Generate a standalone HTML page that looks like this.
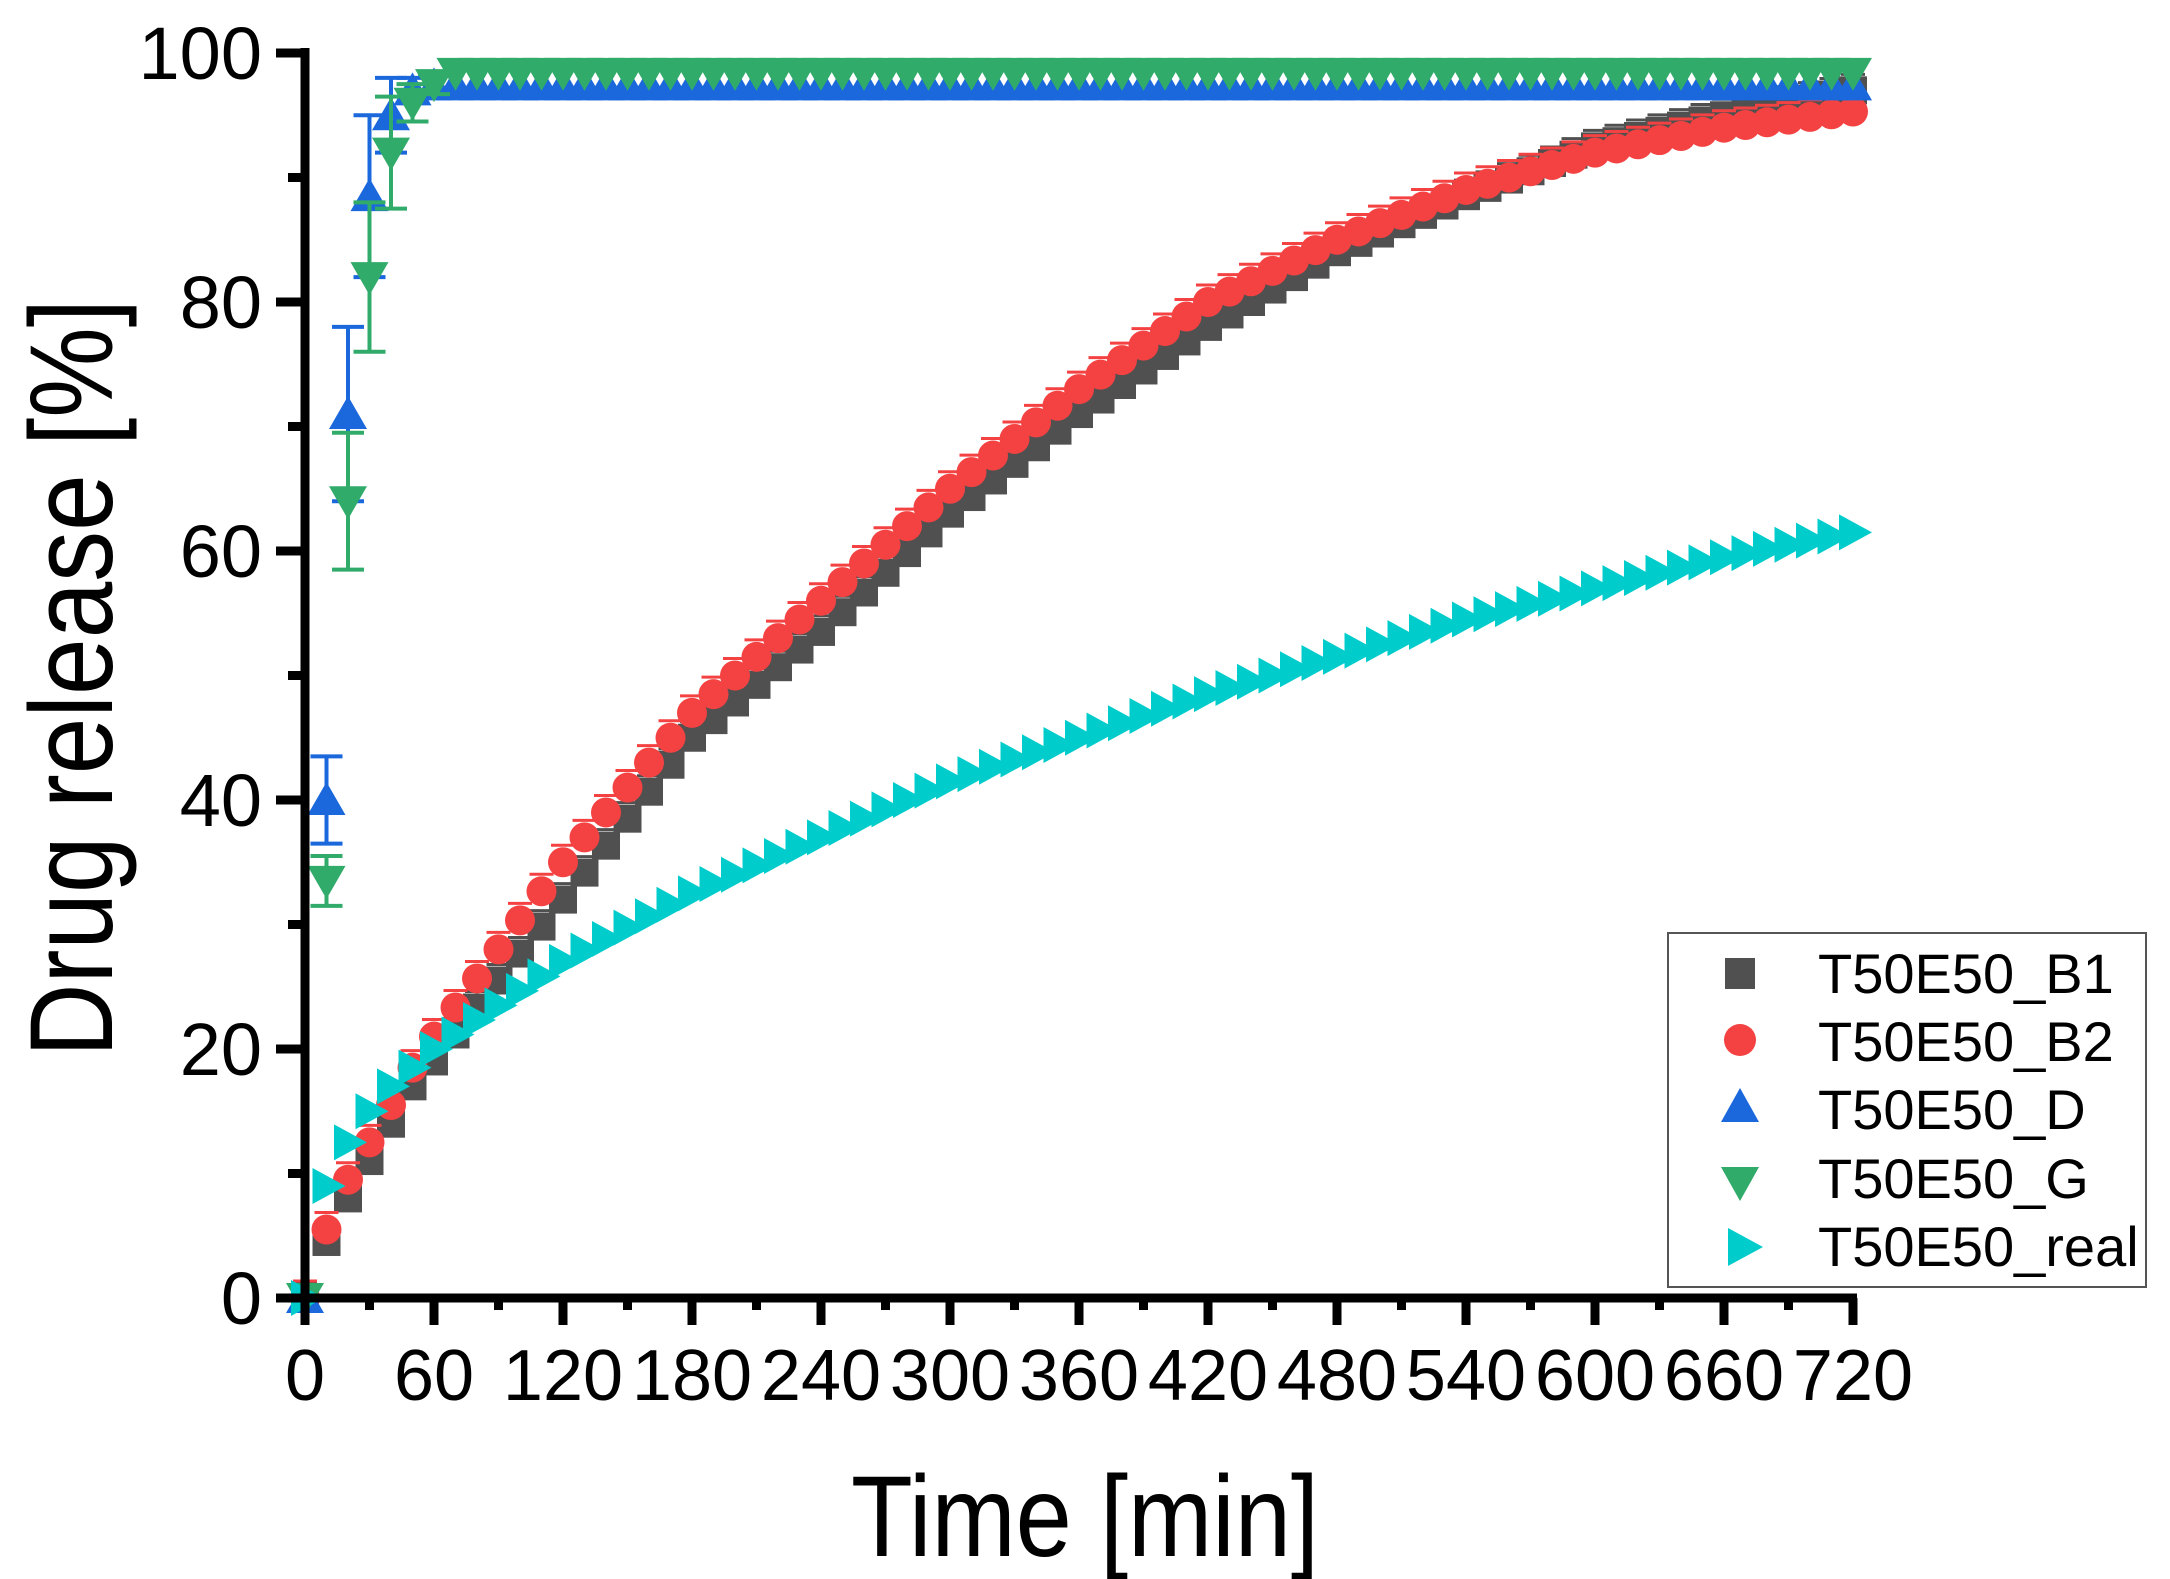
<!DOCTYPE html>
<html><head><meta charset="utf-8"><style>
html,body{margin:0;padding:0;background:#fff}
svg{display:block}
text{font-family:"Liberation Sans",Arial,sans-serif;fill:#000}
</style></head><body>
<svg id="s" width="2170" height="1579" viewBox="0 0 2170 1579" xmlns="http://www.w3.org/2000/svg">
<g id="data"></g>
<g id="axes"></g>
<text x="1085" y="1556" font-size="115" text-anchor="middle" textLength="468" lengthAdjust="spacingAndGlyphs">Time [min]</text>
<text transform="translate(112,678) rotate(-90)" font-size="118" text-anchor="middle" textLength="758" lengthAdjust="spacingAndGlyphs">Drug release [%]</text>
<rect x="1668" y="933" width="478" height="354" fill="#fff" stroke="#555" stroke-width="2"/>
<rect x="1725" y="958" width="30" height="31" fill="#505050"/>
<circle cx="1740" cy="1040" r="16" fill="#f44242"/>
<polygon points="1740,1088 1759,1122 1721,1122" fill="#1a68dc"/>
<polygon points="1721,1167 1759,1167 1740,1201" fill="#30ab6a"/>
<polygon points="1728,1228 1763,1247 1728,1266" fill="#00cccc"/>
<g font-size="56">
<text x="1818" y="993">T50E50_B1</text>
<text x="1818" y="1061">T50E50_B2</text>
<text x="1818" y="1129">T50E50_D</text>
<text x="1818" y="1198">T50E50_G</text>
<text x="1818" y="1266">T50E50_real</text>
</g>
</svg>
<script>
var X=function(t){return 305+t*(1853-305)/720},Y=function(v){return 1298-v*(1298-53)/100};
function interp(a,t){for(var i=0;i<a.length-1;i++){if(t<=a[i+1][0]){var f=(t-a[i][0])/(a[i+1][0]-a[i][0]);return a[i][1]+f*(a[i+1][1]-a[i][1]);}}return a[a.length-1][1];}
var B1=[[0,0],[10,4.5],[20,8],[30,11],[40,14],[50,17],[60,19],[120,32],[180,45],[240,53.5],[300,63],[360,71],[420,78],[480,84],[540,88.5],[600,92.5],[660,95],[720,97]];
var B2=[[0,0],[10,5.5],[20,9.5],[30,12.5],[40,15.5],[50,18.5],[60,21],[120,35],[180,47],[240,56],[300,65],[360,73],[420,80],[480,85],[540,89],[600,92],[660,94],[720,95.3]];
var R=[[0,0],[10,9],[20,12.5],[30,15],[40,17],[50,18.5],[60,20],[120,27],[180,32.5],[240,37],[300,41.5],[360,45],[420,48.5],[480,51.5],[540,54.5],[600,57],[660,59.5],[720,61.5]];
var D=[[0,0],[10,40],[20,71],[30,88.5],[40,95],[50,97],[60,97.4],[720,97.4]];
var De=[0,3.5,7,6.5,3,1,0.3];
var G=[[0,0],[10,33.5],[20,64],[30,82],[40,92],[50,96],[60,97.5],[70,98.4],[720,98.4]];
var Ge=[0,2,5.5,6,4.5,1.5,0.8];
var h='';
function eb(t,v,e,c){if(e<=0.4)return;var x=X(t);h+='<line x1="'+x+'" y1="'+Y(v-e)+'" x2="'+x+'" y2="'+Y(v+e)+'" stroke="'+c+'" stroke-width="4"/>';h+='<line x1="'+(x-16)+'" y1="'+Y(v-e)+'" x2="'+(x+16)+'" y2="'+Y(v-e)+'" stroke="'+c+'" stroke-width="4"/>';h+='<line x1="'+(x-16)+'" y1="'+Y(v+e)+'" x2="'+(x+16)+'" y2="'+Y(v+e)+'" stroke="'+c+'" stroke-width="4"/>';}
var t,x,y;
for(t=0;t<=720;t+=10){x=X(t);y=Y(interp(B1,t));h+='<rect x="'+(x-14)+'" y="'+(y-14)+'" width="28" height="28" fill="#505050"/><line x1="'+(x-12)+'" y1="'+(y-16)+'" x2="'+(x+12)+'" y2="'+(y-16)+'" stroke="#505050" stroke-width="3"/>';}
for(t=0;t<=720;t+=10){x=X(t);y=Y(interp(B2,t));h+='<circle cx="'+x+'" cy="'+y+'" r="15" fill="#f44242"/><line x1="'+(x-12)+'" y1="'+(y-17)+'" x2="'+(x+12)+'" y2="'+(y-17)+'" stroke="#f44242" stroke-width="3"/>';}
for(t=0;t<=720;t+=10){var v=interp(D,t);x=X(t);y=Y(v);var k=t/10;if(k<De.length)eb(t,v,De[k],'#1a68dc');h+='<polygon points="'+x+','+(y-18)+' '+(x+19)+','+(y+15)+' '+(x-19)+','+(y+15)+'" fill="#1a68dc"/>';}
for(t=0;t<=720;t+=10){var v=interp(G,t);x=X(t);y=Y(v);var k=t/10;if(k<Ge.length)eb(t,v,Ge[k],'#30ab6a');h+='<polygon points="'+(x-19)+','+(y-15)+' '+(x+19)+','+(y-15)+' '+x+','+(y+18)+'" fill="#30ab6a"/>';}
for(t=0;t<=720;t+=10){x=X(t);y=Y(interp(R,t));h+='<polygon points="'+(x-14)+','+(y-18)+' '+(x+19)+','+y+' '+(x-14)+','+(y+18)+'" fill="#00cccc"/>';}
document.getElementById('data').innerHTML=h;
var a='';
a+='<line x1="305" y1="48" x2="305" y2="1302" stroke="#000" stroke-width="9"/>';
a+='<line x1="301" y1="1298" x2="1857" y2="1298" stroke="#000" stroke-width="9"/>';
for(var v=0;v<=100;v+=10){var yy=Y(v),maj=v%20==0;a+='<line x1="'+(maj?276:288)+'" y1="'+yy+'" x2="305" y2="'+yy+'" stroke="#000" stroke-width="9"/>';if(maj)a+='<text x="262" y="'+(yy+26)+'" font-size="74" text-anchor="end">'+v+'</text>';}
for(var tt=0;tt<=720;tt+=30){var xx=X(tt),maj=tt%60==0;a+='<line x1="'+xx+'" y1="1298" x2="'+xx+'" y2="'+(maj?1325:1310)+'" stroke="#000" stroke-width="9"/>';if(maj)a+='<text x="'+xx+'" y="1400" font-size="72" text-anchor="middle">'+tt+'</text>';}
document.getElementById('axes').innerHTML=a;
</script>
</body></html>
